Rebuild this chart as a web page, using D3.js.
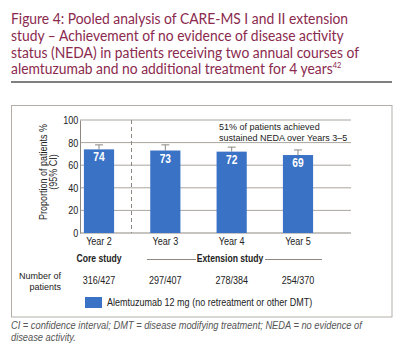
<!DOCTYPE html>
<html><head><meta charset="utf-8">
<script src="https://cdn.jsdelivr.net/npm/d3@7"></script>
<style>
body{margin:0;background:#fff;}
svg{display:block;}
</style></head>
<body><svg id="c" width="410" height="348"></svg>
<script>
const categories = ["Year 2","Year 3","Year 4","Year 5"];
const values = [74,73,72,69];
const upperCI = [78,78,76,73.5];
const patients = ["316/427","297/407","278/384","254/370"];
const yTicks = [0,20,40,60,80,100];
const titleLines = ["Figure 4: Pooled analysis of CARE-MS I and II extension",
  "study \u2013 Achievement of no evidence of disease activity",
  "status (NEDA) in patients receiving two annual courses of",
  "alemtuzumab and no additional treatment for 4 years"];
const annotationLines = ["51% of patients achieved", "sustained NEDA over Years 3\u20135"];
const rowLabelLines = ["Number of", "patients"];
const footLines = ["CI = confidence interval; DMT = disease modifying treatment; NEDA = no evidence of",
  "disease activity."];

const svg = d3.select("#c");
const sans = "'Liberation Sans', Arial, sans-serif";
const SX = 0.82;
const titleColor = "#8a2a4e";
const barColor = "#3a72c6";
const gridColor = "#aaa69e";
const ink = "#222";

// condensed text helper
function ctext(parent, x, y, txt, opts={}) {
  const t = parent.append("text")
    .attr("transform", `translate(${x},${y}) scale(${opts.sx || SX},1)`)
    .attr("font-family", sans).attr("font-size", opts.size || 11)
    .attr("fill", opts.fill || ink)
    .attr("text-anchor", opts.anchor || "start")
    .text(txt);
  if (opts.bold) t.attr("font-weight","bold");
  return t;
}

// Title
const tg = svg.append("g").attr("transform","translate(11,0) scale(0.925,1)");
const tt = tg.append("text").attr("font-family","Lato, 'Open Sans', sans-serif").attr("font-size",15).attr("fill",titleColor);
titleLines.forEach((l,i)=>{
  tt.append("tspan").attr("x",0).attr("y",24+i*16.8).text(l);
  if(i===3) tt.append("tspan").attr("font-size",8).attr("dy",-6).text("42");
});
svg.append("line").attr("x1",11).attr("x2",392).attr("y1",82).attr("y2",82).attr("stroke","#555").attr("stroke-width",1.3);

// Box
svg.append("rect").attr("x",11.5).attr("y",105.5).attr("width",380.5).attr("height",211.5).attr("fill","none").attr("stroke","#b3afa7").attr("stroke-width",1);

// Scales
const y = d3.scaleLinear().domain([0,100]).range([233,120]);
const x = d3.scaleBand().domain(categories).range([66,331]).paddingInner(0.545).paddingOuter(0.27);
const plotL = 80, plotR = 351;

// grid
svg.append("g").selectAll("line").data(yTicks.filter(d=>d>0)).join("line")
  .attr("x1",plotL).attr("x2",plotR).attr("y1",d=>y(d)).attr("y2",d=>y(d))
  .attr("stroke",gridColor).attr("stroke-width",1);

// dashed separator
svg.append("line").attr("x1",131.5).attr("x2",131.5).attr("y1",y(100)).attr("y2",y(0))
  .attr("stroke","#8d8982").attr("stroke-dasharray","4,3").attr("stroke-width",1);

// y axis
const yAxis = d3.axisLeft(y).tickValues(yTicks).tickSize(0).tickPadding(2);
const ya = svg.append("g").attr("transform",`translate(${plotL},0)`).call(yAxis);
ya.select(".domain").attr("stroke","#8d8982");
ya.selectAll("text").attr("font-family",sans).attr("font-size",11).attr("fill",ink)
  .attr("transform",`scale(${SX},1)`);

// x axis line
svg.append("line").attr("x1",plotL).attr("x2",plotR).attr("y1",y(0)).attr("y2",y(0)).attr("stroke","#8d8982");
const xAxis = d3.axisBottom(x).tickSize(0).tickPadding(4);
const xa = svg.append("g").attr("transform",`translate(0,${y(0)})`).call(xAxis);
xa.select(".domain").remove();
xa.selectAll("text").attr("font-family",sans).attr("font-size",11).attr("fill",ink)
  .attr("transform",`scale(${SX},1)`);

// error bars (upper)
const eb = svg.append("g").attr("stroke","#8d8982").attr("stroke-width",1);
categories.forEach((c,i)=>{
  const cx = x(c)+x.bandwidth()/2;
  eb.append("line").attr("x1",cx).attr("x2",cx).attr("y1",y(values[i])).attr("y2",y(upperCI[i]));
  eb.append("line").attr("x1",cx-4).attr("x2",cx+4).attr("y1",y(upperCI[i])).attr("y2",y(upperCI[i]));
});

// bars
svg.selectAll("rect.bar").data(values).join("rect").attr("class","bar")
  .attr("x",(d,i)=>x(categories[i])).attr("width",x.bandwidth())
  .attr("y",d=>y(d)).attr("height",d=>y(0)-y(d)).attr("fill",barColor);
const cxs = categories.map(c=>x(c)+x.bandwidth()/2);
values.forEach((v,i)=>ctext(svg, cxs[i], y(v)+12, String(v), {anchor:"middle", bold:true, size:12.5, fill:"#fff"}));

// y title
const yt = svg.append("text").attr("transform",`translate(47,172) rotate(-90) scale(${SX},1)`)
  .attr("text-anchor","middle").attr("font-family",sans).attr("font-size",11).attr("fill",ink);
yt.append("tspan").attr("x",0).attr("y",0).text("Proportion of patients %");
yt.append("tspan").attr("x",0).attr("y",10).text("(95% CI)");

// annotation
annotationLines.forEach((l,i)=>ctext(svg, 219, 130 + i*11, l, {size:9.8, sx:0.92}));

// study row
ctext(svg, cxs[0], 262, "Core study", {anchor:"middle", bold:true, size:10.5});
ctext(svg, 230, 262, "Extension study", {anchor:"middle", bold:true, size:10.5});
svg.append("line").attr("x1",147).attr("x2",196).attr("y1",259.5).attr("y2",259.5).attr("stroke","#8d8982");
svg.append("line").attr("x1",265).attr("x2",322).attr("y1",259.5).attr("y2",259.5).attr("stroke","#8d8982");

// number of patients
rowLabelLines.forEach((l,i)=>ctext(svg, 61, 278.5 + i*11, l, {anchor:"end", size:9.8, sx:0.92}));
patients.forEach((p,i)=>ctext(svg, cxs[i], 284, p, {anchor:"middle"}));

// legend
svg.append("rect").attr("x",85).attr("y",297).attr("width",17).attr("height",11).attr("fill",barColor);
ctext(svg, 107, 306, "Alemtuzumab 12 mg (no retreatment or other DMT)");

// footnote
const ft = svg.append("text").attr("transform","translate(11,0) scale(0.93,1)")
  .attr("font-family",sans).attr("font-style","italic")
  .attr("font-size",10).attr("fill","#555");
footLines.forEach((l,i)=>ft.append("tspan").attr("x",0).attr("y",329+i*12.5).text(l));
</script></body></html>
